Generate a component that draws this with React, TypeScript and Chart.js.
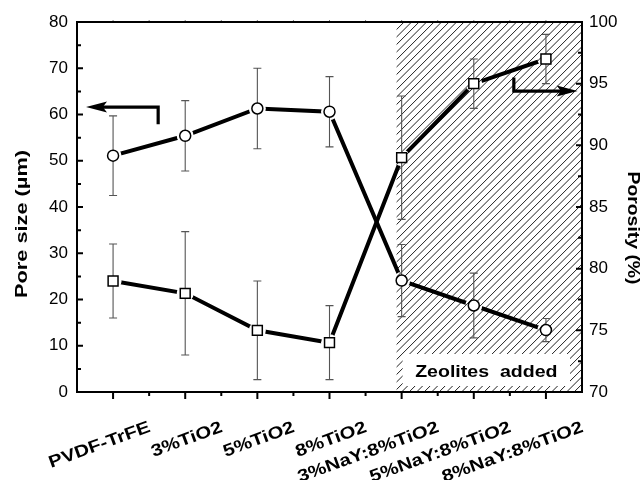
import React, { useEffect, useRef } from 'react';
import { Chart, registerables } from 'chart.js';

Chart.register(...registerables);

// ---- data ----
const categories = ['PVDF-TrFE', '3%TiO2', '5%TiO2', '8%TiO2', '3%NaY:8%TiO2', '5%NaY:8%TiO2', '8%NaY:8%TiO2'];
const poreSize = [51.1, 55.4, 61.3, 60.6, 24.1, 18.7, 13.4];
const poreSizeErr = [8.6, 7.6, 8.7, 7.6, 7.8, 7.0, 2.5];
const porosity = [79.0, 78.0, 75.0, 74.0, 89.0, 95.0, 97.0];
const porosityErr = [3.0, 5.0, 4.0, 3.0, 5.0, 2.0, 2.0];
const poreAxis = { min: 0, max: 80, step: 10, minor: 5 };
const porosityAxis = { min: 70, max: 100, step: 5, minor: 2.5 };
const zeoliteStart = 3.93;
const zeoliteLabel = 'Zeolites  added';
const leftTitle = 'Pore size (\u00b5m)';
const rightTitle = 'Porosity (%)';
// arrow paths in data units [x, y]
const leftArrow = [[0.625, 57.9], [0.625, 61.6], [-0.375, 61.6]];
const rightArrow = [[5.555, 95.5], [5.555, 94.4], [6.44, 94.4]];

const FONT = '"Liberation Sans", Arial, Helvetica, sans-serif';
const GAP_R = 8.5;

function drawArrow(ctx: CanvasRenderingContext2D, pts: number[][]) {
  const headLen = 21;
  const halfW = 5.5;
  const n = pts.length;
  const [tx, ty] = pts[n - 1];
  const [px, py] = pts[n - 2];
  const ang = Math.atan2(ty - py, tx - px);
  const c = Math.cos(ang), s = Math.sin(ang);
  ctx.save();
  ctx.strokeStyle = '#000';
  ctx.fillStyle = '#000';
  ctx.lineWidth = 3.2;
  ctx.lineJoin = 'miter';
  ctx.lineCap = 'butt';
  ctx.beginPath();
  ctx.moveTo(pts[0][0], pts[0][1]);
  for (let i = 1; i < n - 1; i++) ctx.lineTo(pts[i][0], pts[i][1]);
  ctx.lineTo(tx - c * headLen * 0.7, ty - s * headLen * 0.7);
  ctx.stroke();
  ctx.beginPath();
  ctx.moveTo(tx, ty);
  ctx.lineTo(tx - c * headLen - s * halfW, ty - s * headLen + c * halfW);
  ctx.lineTo(tx - c * headLen * 0.8, ty - s * headLen * 0.8);
  ctx.lineTo(tx - c * headLen + s * halfW, ty - s * headLen - c * halfW);
  ctx.closePath();
  ctx.fill();
  ctx.restore();
}

function stretchedText(ctx: CanvasRenderingContext2D, text: string, x: number, y: number, rot: number, sx: number, dy = 0) {
  ctx.save();
  ctx.translate(x, y);
  ctx.rotate(rot);
  ctx.scale(sx, 1);
  ctx.fillText(text, 0, dy);
  ctx.restore();
}

const decorPlugin = {
  id: 'decor',
  beforeDatasetsDraw(chart: any) {
    const { ctx, chartArea: a, scales } = chart;
    const x0 = scales.x.getPixelForValue(zeoliteStart);
    ctx.save();
    ctx.beginPath();
    ctx.rect(x0, a.top, a.right - x0, a.bottom - a.top);
    ctx.clip();
    ctx.strokeStyle = '#222';
    ctx.lineWidth = 1;
    const h = a.bottom - a.top;
    ctx.beginPath();
    for (let k = x0 - h; k < a.right + 2; k += 7.5) {
      ctx.moveTo(k, a.bottom);
      ctx.lineTo(k + h, a.top);
    }
    ctx.stroke();
    const bx0 = scales.x.getPixelForValue(4) + 1;
    const bx1 = a.right - 12;
    const by0 = a.bottom - 38;
    const by1 = a.bottom - 6;
    ctx.fillStyle = '#fff';
    ctx.fillRect(bx0, by0, bx1 - bx0, by1 - by0);
    ctx.fillStyle = '#000';
    ctx.font = 'bold 17px ' + FONT;
    ctx.textAlign = 'center';
    ctx.textBaseline = 'alphabetic';
    stretchedText(ctx, zeoliteLabel, (bx0 + bx1) / 2, a.bottom - 15, 0, 1.15);
    ctx.restore();
  },
  beforeDatasetDraw(chart: any, args: any) {
    const ds = chart.data.datasets[args.index];
    const ctx = chart.ctx;
    if (ds.role === 'line') {
      ctx.save();
      ctx.beginPath();
      ctx.rect(0, 0, chart.width, chart.height);
      for (const el of args.meta.data) {
        ctx.moveTo(el.x + GAP_R, el.y);
        ctx.arc(el.x, el.y, GAP_R, 0, Math.PI * 2);
      }
      ctx.clip('evenodd');
    } else if (ds.role === 'marker') {
      const sc = chart.scales[ds.yAxisID];
      ctx.save();
      ctx.strokeStyle = '#555';
      ctx.lineWidth = 1.1;
      ctx.beginPath();
      args.meta.data.forEach((el: any, i: number) => {
        const v = ds.values[i];
        const e = ds.errors[i];
        const yt = sc.getPixelForValue(v + e);
        const yb = sc.getPixelForValue(v - e);
        ctx.moveTo(el.x, yt);
        ctx.lineTo(el.x, yb);
        ctx.moveTo(el.x - 4, yt);
        ctx.lineTo(el.x + 4, yt);
        ctx.moveTo(el.x - 4, yb);
        ctx.lineTo(el.x + 4, yb);
      });
      ctx.stroke();
      ctx.restore();
    }
  },
  afterDatasetDraw(chart: any, args: any) {
    const ds = chart.data.datasets[args.index];
    if (ds.role === 'line') chart.ctx.restore();
  },
  afterDraw(chart: any) {
    const { ctx, chartArea: a, scales } = chart;
    const xs = scales.x, yl = scales.y, yr = scales.y1;
    ctx.save();
    // ticks
    ctx.strokeStyle = '#000';
    ctx.lineWidth = 2;
    ctx.beginPath();
    for (let v = poreAxis.min; v <= poreAxis.max; v += poreAxis.minor) {
      const y = yl.getPixelForValue(v);
      const len = Math.abs(v % poreAxis.step) < 1e-6 ? 6 : 4;
      ctx.moveTo(a.left, y);
      ctx.lineTo(a.left + len, y);
    }
    for (let v = porosityAxis.min; v <= porosityAxis.max + 1e-6; v += porosityAxis.minor) {
      const y = yr.getPixelForValue(v);
      const len = Math.abs((v - porosityAxis.min) % porosityAxis.step) < 1e-6 ? 6 : 4;
      ctx.moveTo(a.right, y);
      ctx.lineTo(a.right - len, y);
    }
    for (let i = 0; i < categories.length; i++) {
      const x = xs.getPixelForValue(i);
      ctx.moveTo(x, a.bottom);
      ctx.lineTo(x, a.bottom + 7);
      if (i < categories.length - 1) {
        const xm = xs.getPixelForValue(i + 0.5);
        ctx.moveTo(xm, a.bottom);
        ctx.lineTo(xm, a.bottom + 4);
      }
    }
    ctx.stroke();
    ctx.strokeStyle = '#777';
    ctx.lineWidth = 1;
    ctx.beginPath();
    for (let i = 0; i < categories.length; i++) {
      const x = xs.getPixelForValue(i);
      ctx.moveTo(x, a.top);
      ctx.lineTo(x, a.top - 2);
      if (i < categories.length - 1) {
        const xm = xs.getPixelForValue(i + 0.5);
        ctx.moveTo(xm, a.top);
        ctx.lineTo(xm, a.top - 2);
      }
    }
    ctx.stroke();
    // frame
    ctx.strokeStyle = '#000';
    ctx.lineWidth = 2;
    ctx.strokeRect(a.left, a.top, a.right - a.left, a.bottom - a.top);

    // arrows
    drawArrow(ctx, leftArrow.map(([x, y]) => [xs.getPixelForValue(x), yl.getPixelForValue(y)]));
    drawArrow(ctx, rightArrow.map(([x, y]) => [xs.getPixelForValue(x), yr.getPixelForValue(y)]));

    // x labels
    ctx.fillStyle = '#000';
    ctx.font = 'bold 17px ' + FONT;
    ctx.textAlign = 'right';
    ctx.textBaseline = 'alphabetic';
    const capH = 17 * 0.716;
    categories.forEach((lab, i) => {
      const ax = xs.getPixelForValue(i) + 34;
      const ay = a.bottom + 28;
      stretchedText(ctx, lab, ax, ay, (-20 * Math.PI) / 180, 1.2, capH);
    });

    // axis titles
    ctx.font = 'bold 17px ' + FONT;
    ctx.textAlign = 'center';
    ctx.textBaseline = 'middle';
    stretchedText(ctx, leftTitle, 22, (a.top + a.bottom) / 2 + 17, -Math.PI / 2, 1.28);
    stretchedText(ctx, rightTitle, chart.width - 10, (a.top + a.bottom) / 2 + 21, Math.PI / 2, 1.14);
    ctx.restore();
  },
};

export default function App() {
  const ref = useRef<HTMLCanvasElement | null>(null);
  useEffect(() => {
    if (!ref.current) return;
    const tickFont = { family: FONT, size: 17 };
    const chart = new Chart(ref.current, {
      type: 'line',
      data: {
        datasets: [
          {
            role: 'marker',
            values: poreSize,
            errors: poreSizeErr,
            data: poreSize.map((v, i) => ({ x: i, y: v })),
            yAxisID: 'y',
            showLine: false,
            pointStyle: 'circle',
            pointRadius: 5.5,
            pointBorderWidth: 1.5,
            pointBackgroundColor: '#fff',
            pointBorderColor: '#000',
            order: 0,
          } as any,
          {
            role: 'marker',
            values: porosity,
            errors: porosityErr,
            data: porosity.map((v, i) => ({ x: i, y: v })),
            yAxisID: 'y1',
            showLine: false,
            pointStyle: 'rect',
            pointRadius: 7,
            pointBorderWidth: 1.5,
            pointBackgroundColor: '#fff',
            pointBorderColor: '#000',
            order: 0,
          } as any,
          {
            role: 'line',
            data: poreSize.map((v, i) => ({ x: i, y: v })),
            yAxisID: 'y',
            borderColor: '#000',
            borderWidth: 4,
            pointRadius: 0,
            tension: 0,
            fill: false,
            order: 1,
          } as any,
          {
            role: 'line',
            data: porosity.map((v, i) => ({ x: i, y: v })),
            yAxisID: 'y1',
            borderColor: '#000',
            borderWidth: 4,
            pointRadius: 0,
            tension: 0,
            fill: false,
            order: 1,
          } as any,
        ],
      },
      options: {
        responsive: false,
        devicePixelRatio: 1,
        animation: false,
        events: [],
        layout: { padding: { top: 22, left: 0, right: 0, bottom: 0 } },
        plugins: { legend: { display: false }, tooltip: { enabled: false } },
        scales: {
          x: {
            type: 'linear',
            min: -0.5,
            max: 6.5,
            ticks: { display: false },
            grid: { display: false, drawTicks: false },
            border: { display: false },
            afterFit: (s: any) => { s.height = 88; },
          },
          y: {
            position: 'left',
            min: poreAxis.min,
            max: poreAxis.max,
            ticks: { stepSize: poreAxis.step, font: tickFont, color: '#000', padding: 9 },
            grid: { display: false, drawTicks: false },
            border: { display: false },
            afterFit: (s: any) => { s.width = 77; },
          },
          y1: {
            position: 'right',
            min: porosityAxis.min,
            max: porosityAxis.max,
            ticks: { stepSize: porosityAxis.step, font: tickFont, color: '#000', padding: 7 },
            grid: { display: false, drawTicks: false },
            border: { display: false },
            afterFit: (s: any) => { s.width = 61; },
          },
        },
      } as any,
      plugins: [decorPlugin as any],
    });
    return () => chart.destroy();
  }, []);
  return (
    <div style={{ position: 'absolute', left: 0, top: 0, width: 643, height: 480, background: '#fff' }}>
      <canvas ref={ref} width={643} height={480} style={{ width: 643, height: 480, display: 'block' }} />
    </div>
  );
}
